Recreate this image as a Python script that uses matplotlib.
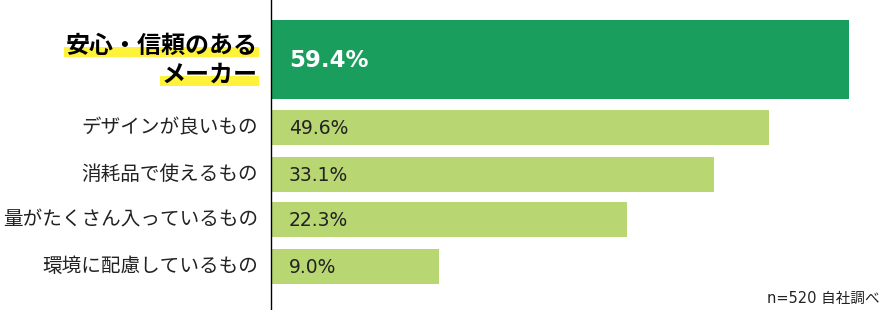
import matplotlib
matplotlib.use("Agg")
import matplotlib.pyplot as plt
from matplotlib.patches import Rectangle

# data
categories = [
    "安心・信頼のある\nメーカー",
    "デザインが良いもの",
    "消耗品で使えるもの",
    "量がたくさん入っているもの",
    "環境に配慮しているもの",
]
values = [59.4, 49.6, 33.1, 22.3, 9.0]
# the bars in the original are not drawn to scale; these are their drawn lengths
drawn_lengths = [59.4, 51.2, 45.6, 36.6, 17.3]
note = "n=520 自社調べ"

plt.rcParams["font.family"] = ["Noto Sans CJK JP", "DejaVu Sans"]
num_font = ["DejaVu Sans", "Noto Sans CJK JP"]

W, H = 888, 310
fig = plt.figure(figsize=(W / 100, H / 100), dpi=100)
ax = fig.add_axes([0, 0, 1, 1])

x0 = 271          # pixel of the zero line
scale = 577.5 / 59.4  # pixels per percent
ax.set_xlim(-x0 / scale, (W - x0) / scale)
ax.set_ylim(H, 0)
ax.axis("off")

dark = "#1a9e5e"
light = "#b8d672"
centers = [59.5, 127.5, 174.5, 219.5, 266.5]
heights = [79, 35, 35, 35, 35]
colors = [dark] + [light] * 4

ax.barh(centers, drawn_lengths, height=heights, color=colors, left=0, zorder=2)
ax.plot([0, 0], [0, 309], color="black", lw=1.0, zorder=3)

lab_x = -13 / scale
val_x = 18 / scale
for i, (cat, v, yc) in enumerate(zip(categories, values, centers)):
    if i == 0:
        ax.text(val_x, yc + 1, f"{v:.1f}%", color="white", fontsize=16.5,
                fontweight="bold", va="center", ha="left", zorder=4,
                family=num_font)
    else:
        ax.text(val_x, yc + 1, f"{v:.1f}%", color="#222222",
                fontsize=13.5, va="center", ha="left", zorder=4,
                family=num_font)
        ax.text(lab_x, yc, cat, color="#222222", fontsize=14.1,
                va="center", ha="right", zorder=4)

# bold first label, one line at a time with a yellow marker under it
fig.canvas.draw()
renderer = fig.canvas.get_renderer()
for line, yc in zip(categories[0].split("\n"), [46, 75]):
    t = ax.text(lab_x, yc, line, color="black", fontsize=17.3,
                fontweight="bold", va="center", ha="right", zorder=4)
    bb = t.get_window_extent(renderer)
    left = ax.transData.inverted().transform((bb.x0 - 2, 0))[0]
    ax.add_patch(Rectangle((left, yc + 1), lab_x - left + 1 / scale, 10,
                           color="#fff23a", zorder=3, lw=0))

ax.text((880 - x0) / scale, 298, note, color="#222222", fontsize=10.5,
        ha="right", va="center", zorder=4, family=num_font)

fig.savefig("out.png", dpi=100)
